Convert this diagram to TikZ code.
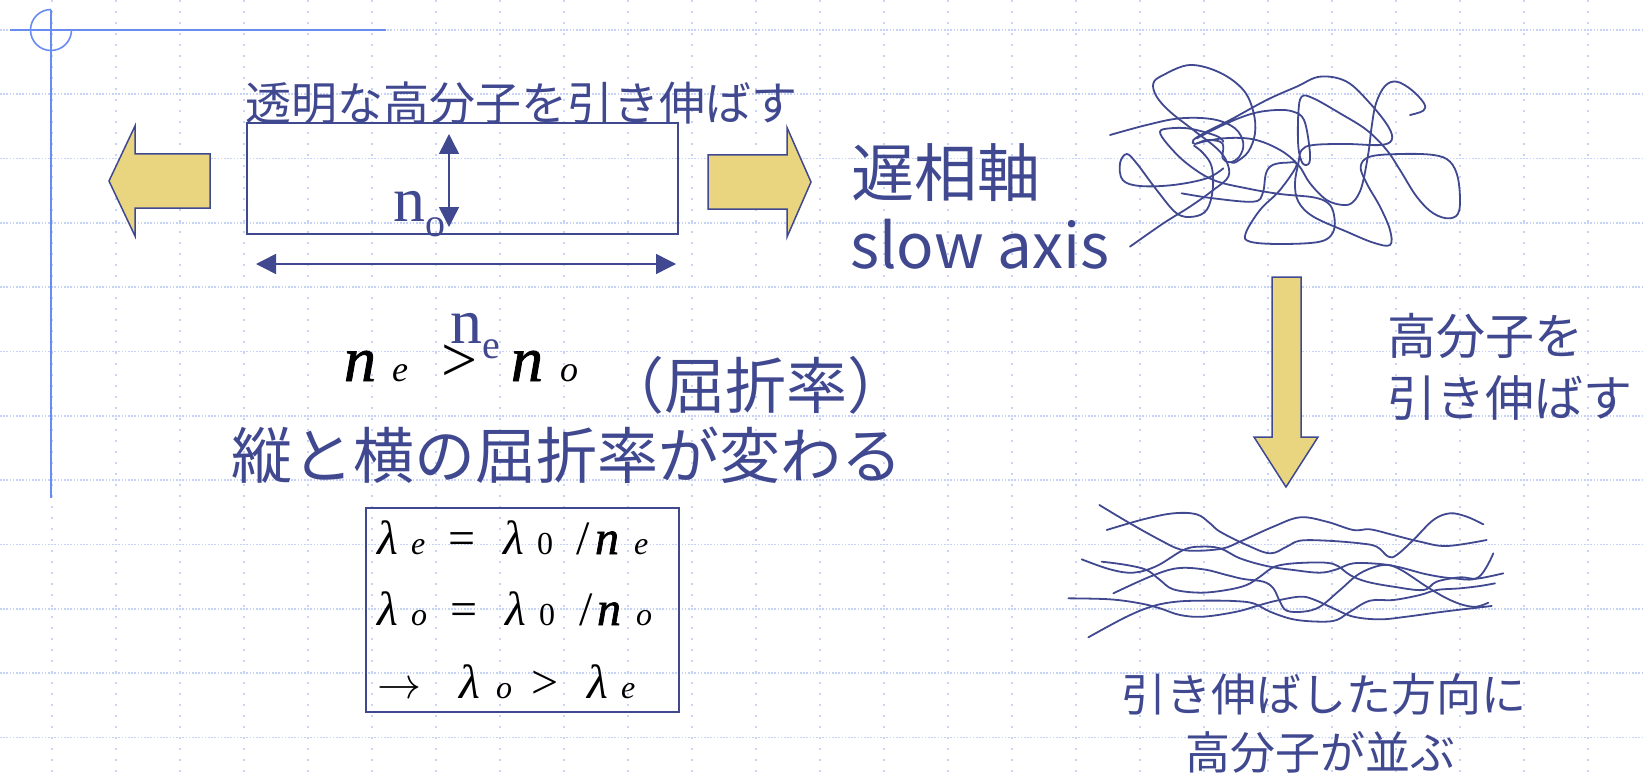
\RequirePackage{fix-cm}
\documentclass[tikz,border=0pt]{standalone}
\usepackage{fontspec}
\setmainfont{Noto Sans CJK JP}
\newfontfamily\serifrm{Liberation Serif}
\newfontfamily\serifheavy{Liberation Serif}[FakeBold=1.3]
\usetikzlibrary{arrows.meta}
\definecolor{ink}{RGB}{64,72,144}
\definecolor{gridblue}{RGB}{198,210,248}
\definecolor{ruleblue}{RGB}{105,140,240}
\definecolor{pullfill}{RGB}{233,213,128}
\newcommand\fs[1]{\fontsize{#1pt}{#1pt}\selectfont}
% place a glyph at a horizontal offset inside a line
\newcommand\gat[2]{\rlap{\hspace*{#1pt}#2}}
% heavy italic n used in the formulas
\newcommand\nvar{{\serifheavy\itshape n}}

\begin{document}
\begin{tikzpicture}[x=1pt,y=-1pt,
  jp/.style={inner sep=0pt, outer sep=0pt, text=ink, anchor=base west},
  jpc/.style={inner sep=0pt, outer sep=0pt, text=ink, anchor=base},
  pull/.style={draw=ink, line width=1.5pt, fill=pullfill, line join=miter},
  chain/.style={draw=ink, line width=1.8pt, line cap=round, line join=round},
  dimarrow/.style={draw=ink, line width=1.5pt,
    {Triangle[length=20pt,width=20pt]}-{Triangle[length=20pt,width=20pt]}},
  gridv/.style={gridblue, line width=1.6pt, dash pattern=on 2pt off 9pt},
  gridh/.style={gridblue, line width=1.6pt, dash pattern=on 1.6pt off 1.6pt},
  rule/.style={ruleblue, line width=1.6pt}
  ]
\useasboundingbox (0,0) rectangle (1644,773);
\fill[white] (0,0) rectangle (1644,773);

% background grid
\foreach \k in {0,...,24} \draw[gridv] (52+64*\k,0) -- (52+64*\k,773);
\foreach \k in {0,...,11} \draw[gridh] (0,30+64.3*\k) -- (1644,30+64.3*\k);

% corner rules and circle mark
\draw[rule] (10,30) -- (386,30);
\draw[rule] (51,10) -- (51,498);
\draw[rule] (51,9.5) arc[start angle=-90, end angle=-360, radius=20.5];

% pulling arrows
\draw[pull] (109,181) -- (135,126) -- (135,154) -- (210,154) -- (210,208) -- (135,208) -- (135,236) -- cycle;
\draw[pull] (811,182) -- (787,127.5) -- (787,155) -- (708,155) -- (708,209) -- (787,209) -- (787,237) -- cycle;
\draw[pull] (1286,487) -- (1254,437) -- (1272,437) -- (1272,277) -- (1301,277) -- (1301,437) -- (1318,437) -- cycle;

% film under tension
\node[draw=ink, line width=1.5pt, minimum width=431pt, minimum height=111pt, inner sep=0pt] (film) at (462.5,178.5) {};
\coordinate (oTop) at (449,134);
\coordinate (oBot) at (449,227);
\draw[dimarrow] (oBot) -- (oTop);
\coordinate (eL) at (256,264);
\coordinate (eR) at (676,264);
\draw[dimarrow] (eL) -- (eR);

\node[jp, font=\serifrm\fs{64}] (noLabel) at (393,221) {n\raisebox{-15pt}{\fs{40}o}};
\node[jp, font=\serifrm\fs{64}] (neLabel) at (450,343) {n\raisebox{-15pt}{\fs{40}e}};

% texts
\node[jp, font=\fs{46}] (stretchTitle) at (245,120.5) {透明な高分子を引き伸ばす};
\node[jp, font=\fs{63}] (slowJa) at (851,196) {遅相軸};
\node[jp, font=\fs{62}] (slowEn) at (850,268) {slow axis};
\node[jp, font=\fs{61}] (refrParen) at (603,408) {（屈折率）};
\node[jp, font=\fs{61}] (refrChange) at (231,478) {縦と横の屈折率が変わる};
\node[jp, font=\fs{49}] (pullA) at (1387,354) {高分子を};
\node[jp, font=\fs{49}] (pullB) at (1387,416) {引き伸ばす};
\node[jpc, font=\fs{45}] (alignA) at (1324,711) {引き伸ばした方向に};
\node[jpc, font=\fs{45}] (alignB) at (1320,769) {高分子が並ぶ};

% index relation
\node[jp, text=black, font=\serifrm\fs{64}] (rel) at (344,381)
  {\gat{0}{\nvar}\gat{48}{\itshape\fs{36}e}\gat{97}{>}\gat{167}{\nvar}\gat{216}{\itshape\fs{36}o}\hspace*{240pt}};

% wavelength box
\node[draw=ink, line width=2pt, minimum width=313pt, minimum height=204pt, inner sep=0pt] (waveBox) at (522.5,610) {};
\node[jp, text=black, font=\serifrm\fs{48}] (eqA) at (377,554)
  {\gat{0}{\itshape λ}\gat{34}{\itshape\fs{32}e}\gat{71}{=}\gat{126}{\itshape λ}\gat{160}{\fs{32}0}\gat{199}{/}\gat{218}{\fs{48}\nvar}\gat{257}{\itshape\fs{32}e}\hspace*{280pt}};
\node[jp, text=black, font=\serifrm\fs{48}] (eqB) at (377,625)
  {\gat{0}{\itshape λ}\gat{34}{\itshape\fs{32}o}\gat{73}{=}\gat{128}{\itshape λ}\gat{162}{\fs{32}0}\gat{202}{/}\gat{220}{\fs{48}\nvar}\gat{259}{\itshape\fs{32}o}\hspace*{280pt}};
\node[jp, text=black, font=\serifrm\fs{48}] (eqC) at (377,698)
  {\gat{0}{\fs{44}$\rightarrow$}\gat{82}{\itshape λ}\gat{119}{\itshape\fs{32}o}\gat{154}{>}\gat{210}{\itshape λ}\gat{244}{\itshape\fs{32}e}\hspace*{280pt}};

% random coil
\begin{scope}[shift={(1080,50)}, scale=1/3]
\draw[chain] plot[smooth, tension=0.6] coordinates {(90,255) (200,225) (300,205) (400,208) (465,235) (490,280) (478,320) (450,337) (428,325) (430,290) (420,275) (380,270) (345,282) (340,270) (380,245) (450,210) (560,150) (650,110) (720,80) (800,95) (870,160) (925,230) (935,270) (900,285) (800,282) (700,285) (665,300) (655,340) (645,400) (655,455) (700,500) (800,545) (880,578) (930,585) (930,540) (900,470) (860,400) (842,350) (870,320) (960,312) (1060,315) (1110,335) (1135,390) (1138,480) (1110,505) (1060,490) (1010,440) (960,360) (920,300) (860,240) (780,190) (700,145) (665,140) (655,190) (655,290) (668,340) (688,338) (688,290) (672,210) (640,185) (590,180) (520,190) (440,220) (350,265)};
\draw[chain] plot[smooth, tension=0.6] coordinates {(150,590) (250,520) (330,470) (400,420) (445,380) (440,335) (410,295) (340,240) (270,185) (230,140) (220,100) (250,75) (330,45) (420,68) (490,120) (520,185) (525,250) (505,305) (470,335) (455,338)};
\draw[chain] plot[smooth, tension=0.6] coordinates {(305,430) (400,445) (520,455) (548,430) (558,370) (578,345) (620,338) (650,345) (600,420) (540,480) (497,550) (510,575) (600,582) (720,575) (760,545) (762,495) (745,460) (700,442) (600,432) (500,415) (400,390) (320,340) (262,282) (240,245) (270,235) (330,236) (410,258) (430,275)};
\draw[chain] plot[smooth, tension=0.6] coordinates {(430,355) (380,385) (280,405) (180,408) (128,390) (120,340) (140,312) (170,340) (230,420) (290,490) (340,500) (380,480) (398,420) (395,350) (370,310) (342,287)};
\draw[chain] plot[smooth, tension=0.6] coordinates {(990,195) (1030,182) (1032,160) (995,120) (950,95) (915,108) (888,160) (875,230) (865,310) (845,410) (820,455) (790,465) (740,450) (690,400) (655,345) (600,300) (520,268) (430,265) (350,280)};
\end{scope}

% aligned chains
\begin{scope}[shift={(1060,480)}, scale=1/3]
\draw[chain] plot[smooth, tension=0.6] coordinates {(118,75) (210,130) (300,180) (360,208) (420,212) (490,205) (540,185) (640,140) (720,112) (800,125) (880,150) (930,148) (1000,165) (1080,185) (1160,198) (1280,180)};
\draw[chain] plot[smooth, tension=0.6] coordinates {(140,150) (250,118) (340,100) (410,103) (450,130) (480,155) (560,195) (630,220) (680,200) (720,182) (800,182) (900,190) (950,200) (985,230) (1010,225) (1060,180) (1120,120) (1170,100) (1220,110) (1270,133)};
\draw[chain] plot[smooth, tension=0.6] coordinates {(65,238) (150,268) (220,278) (290,258) (370,210) (420,200) (480,205) (540,235) (620,258) (700,270) (780,278) (830,268) (880,250) (960,252) (1020,262) (1100,283) (1180,295) (1255,292) (1300,220)};
\draw[chain] plot[smooth, tension=0.6] coordinates {(125,245) (200,255) (260,270) (300,300) (340,328) (420,338) (500,330) (560,315) (600,290) (650,258) (740,248) (820,252) (870,285) (920,305) (1000,320) (1090,330) (1130,305) (1200,292) (1250,296) (1330,280)};
\draw[chain] plot[smooth, tension=0.6] coordinates {(160,340) (270,290) (350,265) (430,268) (500,285) (550,297) (610,305) (640,325) (660,365) (680,392) (730,395) (780,380) (840,330) (900,280) (970,255) (1020,268) (1100,320) (1160,355) (1210,375) (1250,380) (1285,368)};
\draw[chain] plot[smooth, tension=0.6] coordinates {(25,355) (150,358) (240,370) (300,385) (360,405) (430,410) (530,395) (600,375) (650,362) (720,350) (760,358) (820,385) (880,410) (960,418) (1040,410) (1150,395) (1295,378)};
\draw[chain] plot[smooth, tension=0.6] coordinates {(85,472) (200,410) (280,378) (350,365) (430,362) (520,363) (580,370) (630,395) (700,418) (780,425) (830,420) (870,395) (930,362) (1000,360) (1080,345) (1130,330) (1200,325) (1260,318) (1305,310)};
\end{scope}
\end{tikzpicture}
\end{document}
